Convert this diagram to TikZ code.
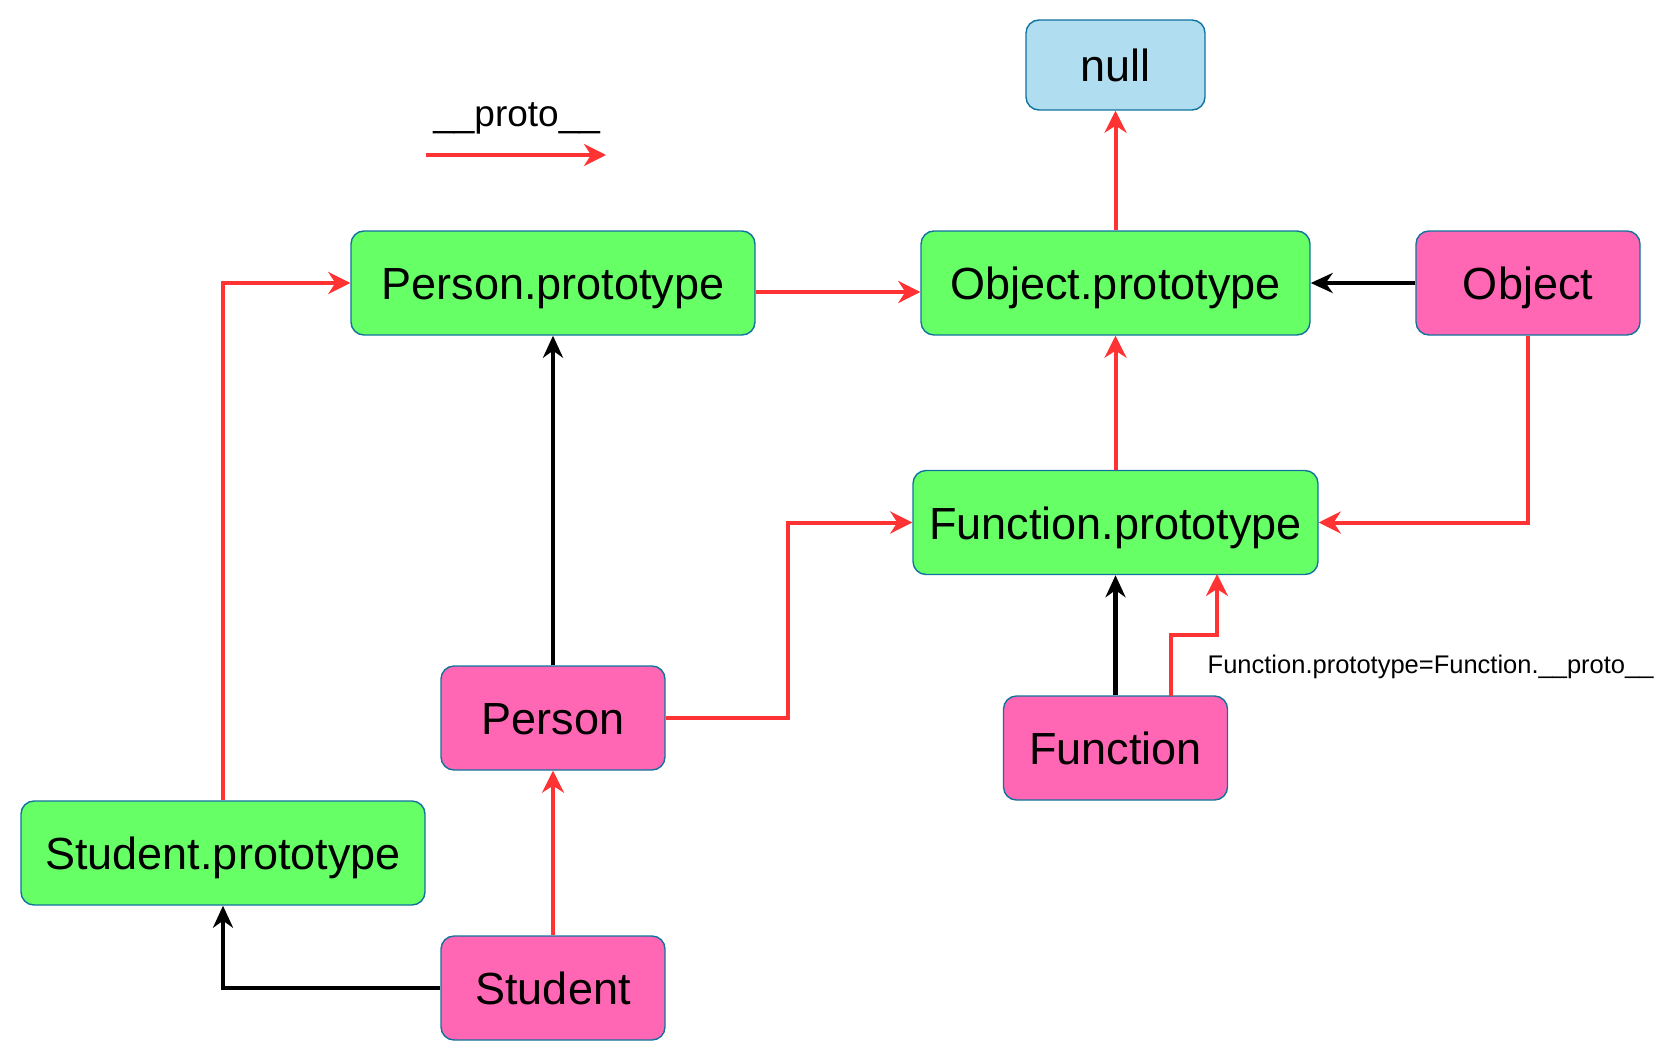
\documentclass[tikz,border=0pt]{standalone}
\usepackage{fontspec}
\setmainfont{Liberation Sans}
\usetikzlibrary{arrows.meta,calc}
\definecolor{boxgreen}{HTML}{66FF66}
\definecolor{boxpink}{HTML}{FF66B3}
\definecolor{boxblue}{HTML}{B1DDF0}
\definecolor{edgeblue}{HTML}{10739E}
\definecolor{protored}{HTML}{FF3333}
\tikzset{
  box/.style={draw=edgeblue, line width=1.4pt, rounded corners=13pt, inner sep=0pt,
    minimum height=104pt, font=\fontsize{45}{50}\selectfont, text=black,
    text height=39pt, text depth=6pt},
  greenbox/.style={box, fill=boxgreen, minimum width=404pt},
  pinkbox/.style={box, fill=boxpink, minimum width=224pt},
  bluebox/.style={box, fill=boxblue, minimum width=179pt, minimum height=90pt},
  protoarrow/.style={draw=protored, line width=4pt, -{Stealth[length=22pt,width=22pt,inset=7pt]}},
  blackarrow/.style={draw=black, line width=4.5pt, -{Stealth[length=22pt,width=20pt,inset=7pt]}},
}
\begin{document}
\begin{tikzpicture}[x=1pt,y=-1pt]
\useasboundingbox (0,0) rectangle (1677,1062);
\node[bluebox] (null) at (1115.5,65) {null};
\node[greenbox] (pp) at (553,283) {Person.prototype};
\node[greenbox, minimum width=389pt] (op) at (1115.5,283) {Object.prototype};
\node[pinkbox] (obj) at (1528,283) {Object};
\node[greenbox, minimum width=405pt] (fp) at (1115.5,522.5) {Function.prototype};
\node[pinkbox] (person) at (553,718) {Person};
\node[pinkbox] (func) at (1115.5,748) {Function};
\node[greenbox] (sp) at (223,853) {Student.prototype};
\node[pinkbox] (student) at (553,988) {Student};

% legend
\node[font=\fontsize{37}{42}\selectfont] (legend) at (516.6,118) {\_\_proto\_\_};
\coordinate (lga) at (425.7,155);
\coordinate (lgb) at (606,155);
\draw[protoarrow] (lga) -- (lgb);

% connectors
\draw[protoarrow] ([yshift=-9pt]pp.east) -- ([yshift=-9pt]op.west);
\draw[protoarrow] (op.north) -- (null.south);
\draw[blackarrow] (obj.west) -- (op.east);
\draw[protoarrow] (obj.south) |- (fp.east);
\draw[protoarrow] (fp.north) -- (op.south);
\draw[blackarrow] (person.north) -- (pp.south);
\draw[protoarrow] (person.east) -| (788,522.5) -- (fp.west);
\draw[blackarrow] (func.north) -- (fp.south);
\coordinate (fstart) at (1171,696);
\coordinate (fend) at (1217,574);
\draw[protoarrow] (fstart) -- (1171,635) -| (fend);
\node[anchor=west, font=\fontsize{25.5}{30}\selectfont, inner sep=0pt] (lbl) at (1207.5,667) {Function.prototype=Function.\_\_proto\_\_};
\draw[protoarrow] (sp.north) |- (pp.west);
\draw[protoarrow] (student.north) -- (person.south);
\draw[blackarrow] (student.west) -| (sp.south);
\end{tikzpicture}
\end{document}
